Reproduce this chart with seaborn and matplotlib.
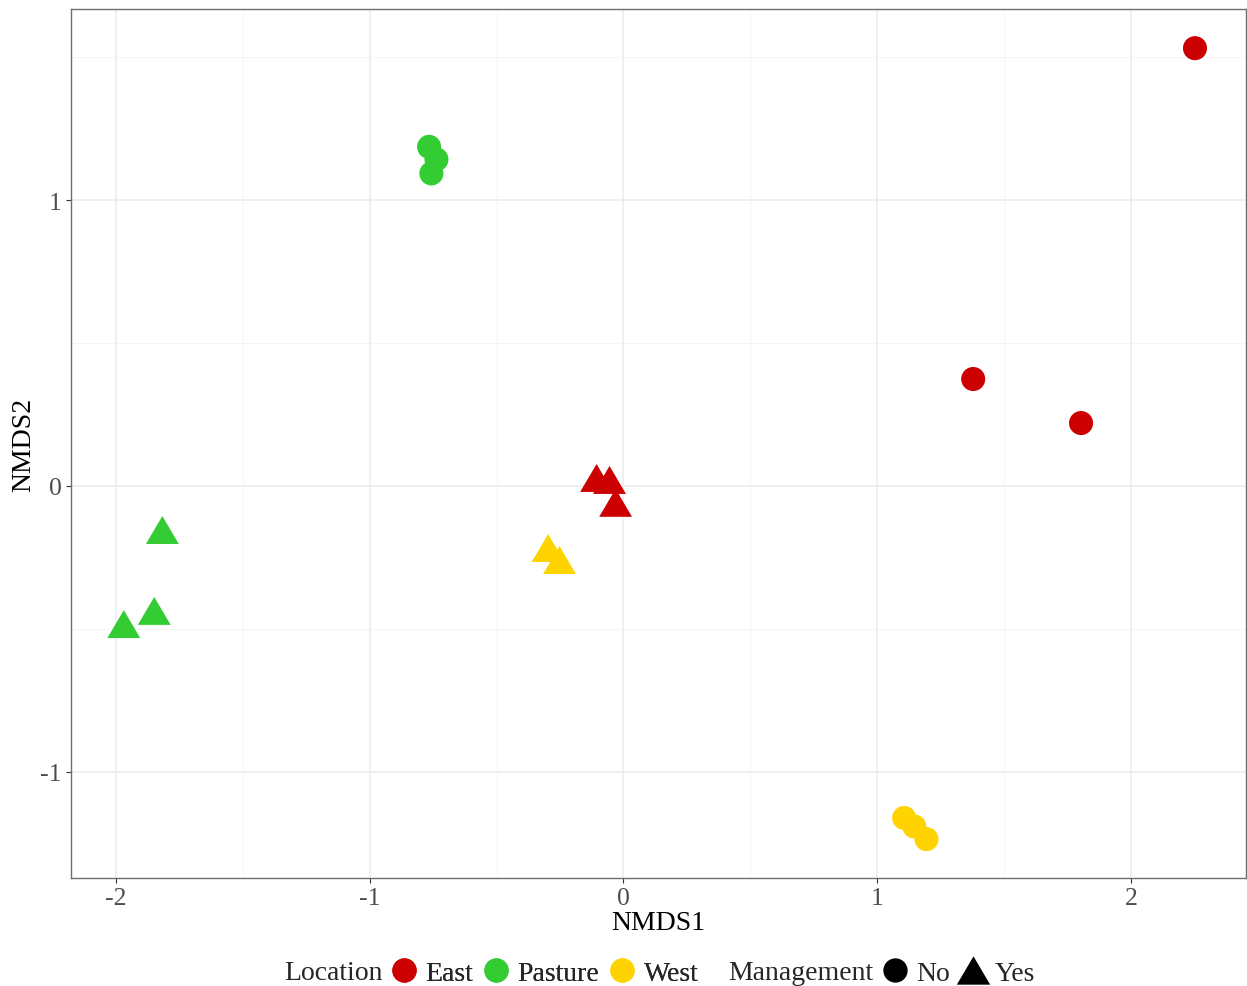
import matplotlib
matplotlib.use("Agg")
import matplotlib.pyplot as plt
from matplotlib.path import Path
from matplotlib.lines import Line2D
from matplotlib.ticker import FixedLocator, FixedFormatter
import pandas as pd
import seaborn as sns

# NMDS ordination scores per sample
nmds1 = [2.252, 1.378, 1.803,
         -0.106, -0.055, -0.031,
         -0.766, -0.737, -0.757,
         -1.817, -1.849, -1.969,
         1.106, 1.146, 1.194,
         -0.297, -0.252]
nmds2 = [1.531, 0.374, 0.220,
         0.028, 0.021, -0.059,
         1.186, 1.142, 1.093,
         -0.154, -0.437, -0.483,
         -1.161, -1.191, -1.235,
         -0.217, -0.259]
location = ["East"] * 6 + ["Pasture"] * 6 + ["West"] * 5
management = (["No"] * 3 + ["Yes"] * 3) * 2 + ["No"] * 3 + ["Yes"] * 2

location_levels = ["East", "Pasture", "West"]
location_colors = ["#CC0000", "#33CC33", "#FFD300"]
management_levels = ["No", "Yes"]

x_ticks = [-2, -1, 0, 1, 2]
x_tick_labels = ["-2", "-1", "0", "1", "2"]
y_ticks = [-1, 0, 1]
y_tick_labels = ["-1", "0", "1"]

df = pd.DataFrame({"NMDS1": nmds1, "NMDS2": nmds2,
                   "Location": location, "Management": management})

sns.set_theme(style="white")
plt.rcParams["font.family"] = ["Liberation Serif", "DejaVu Serif"]

W, H = 1247, 987
fig = plt.figure(figsize=(W / 100, H / 100), dpi=100)
ax = fig.add_axes([71 / W, 1 - 879 / H, (1246 - 71) / W, (879 - 10) / H])

# filled triangle, a bit flatter than tall (like R's pch 17)
tri = Path([(0, 0.85), (-1, -0.85), (1, -0.85), (0, 0.85)],
           [Path.MOVETO, Path.LINETO, Path.LINETO, Path.CLOSEPOLY])
markers = {"No": "o", "Yes": tri}
sizes = {"No": 300, "Yes": 560}
palette = dict(zip(location_levels, location_colors))

sns.scatterplot(data=df, x="NMDS1", y="NMDS2", hue="Location", style="Management",
                size="Management", hue_order=location_levels,
                style_order=management_levels, size_order=management_levels,
                palette=palette, markers=markers, sizes=sizes,
                linewidth=0, alpha=1, legend=False, ax=ax, zorder=3)

ax.set_xlim(-2.177, 2.453)
ax.set_ylim(-1.371, 1.668)
ax.xaxis.set_major_locator(FixedLocator(x_ticks))
ax.xaxis.set_major_formatter(FixedFormatter(x_tick_labels))
ax.yaxis.set_major_locator(FixedLocator(y_ticks))
ax.yaxis.set_major_formatter(FixedFormatter(y_tick_labels))
ax.xaxis.set_minor_locator(FixedLocator([-1.5, -0.5, 0.5, 1.5]))
ax.yaxis.set_minor_locator(FixedLocator([-0.5, 0.5, 1.5]))

ax.set_axisbelow(True)
ax.grid(which="major", color="#EBEBEB", linewidth=1.1)
ax.grid(which="minor", color="#F2F2F2", linewidth=0.6)
for sp in ax.spines.values():
    sp.set_color("#6E6E6E")
    sp.set_linewidth(1.0)

ax.tick_params(axis="both", which="major", direction="out", length=3.5, width=0.8,
               color="#333333", labelcolor="#4D4D4D", labelsize=18.5, pad=3,
               bottom=True, left=True)
ax.tick_params(axis="both", which="minor", length=0)

ax.set_xlabel("NMDS1", fontsize=20, color="black", labelpad=1)
ax.set_ylabel("NMDS2", fontsize=20, color="black", labelpad=3)

# bottom legend: Location then Management, laid out in a single row
yc = 1 - 974 / H
fig.text(284 / W, yc, "Location", fontsize=20, va="center", ha="left")
loc_handles = [Line2D([], [], marker="o", linestyle="", markersize=17.5,
                      markerfacecolor=c, markeredgewidth=0)
               for c in location_colors]
leg1 = fig.legend(loc_handles, location_levels, loc="center left",
                  bbox_to_anchor=(392 / W, yc), frameon=False, ncol=3,
                  fontsize=20, borderpad=0, borderaxespad=0,
                  handlelength=0.85, handletextpad=0.35, columnspacing=0.4)

fig.text(728 / W, yc, "Management", fontsize=20, va="center", ha="left")
mg_handles = [Line2D([], [], marker="o", linestyle="", markersize=17.5,
                     markerfacecolor="black", markeredgewidth=0),
              Line2D([], [], marker=tri, linestyle="", markersize=24,
                     markerfacecolor="black", markeredgewidth=0)]
fig.legend(mg_handles, management_levels, loc="center left",
           bbox_to_anchor=(883 / W, yc), frameon=False, ncol=2,
           fontsize=20, borderpad=0, borderaxespad=0,
           handlelength=0.85, handletextpad=0.35, columnspacing=0.4)
fig.add_artist(leg1)

fig.savefig("out.png", dpi=100, facecolor="white")
